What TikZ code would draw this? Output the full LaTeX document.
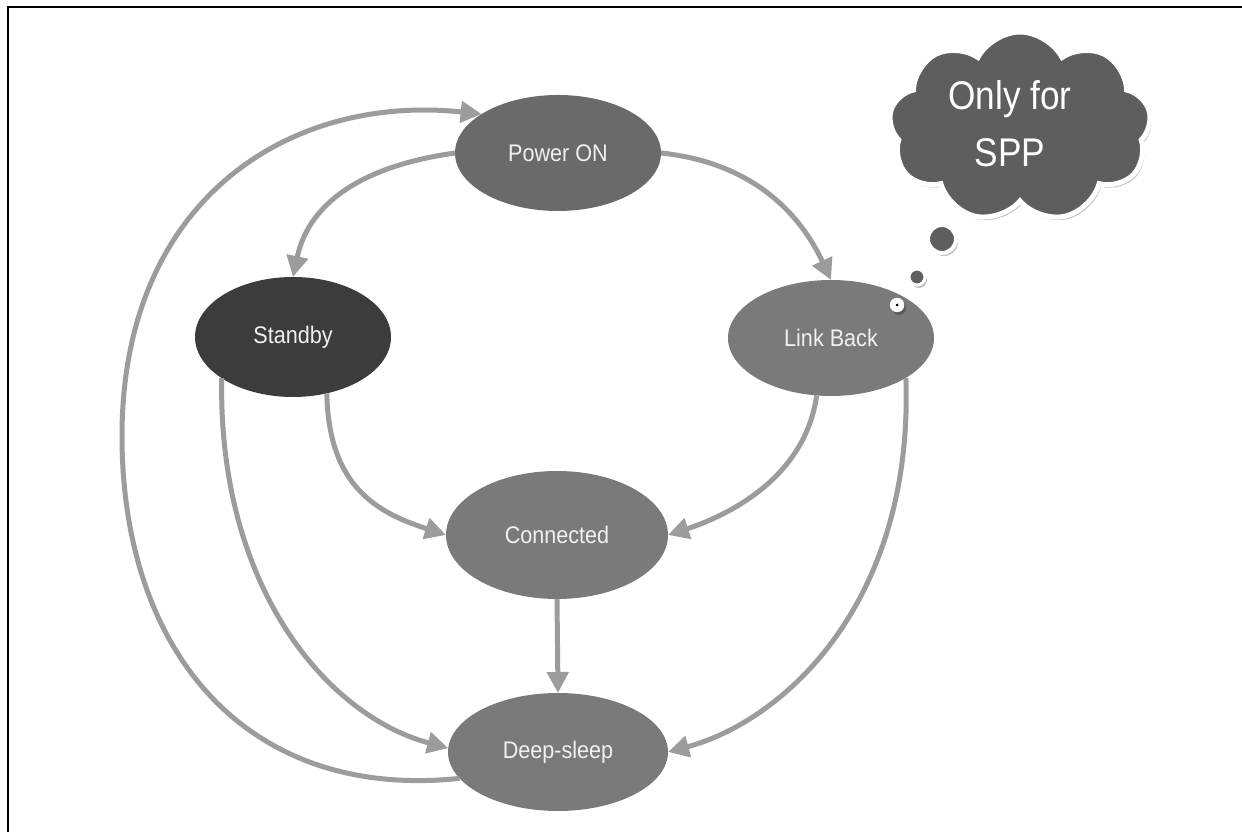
\documentclass[tikz,border=0pt]{standalone}
\usepackage{fontspec}
\setmainfont{Liberation Sans}
\usetikzlibrary{shapes.geometric,shapes.symbols,arrows.meta,shadows}
\definecolor{pwgray}{HTML}{6A6A6A}
\definecolor{sbgray}{HTML}{3C3C3C}
\definecolor{stgray}{HTML}{7A7A7A}
\definecolor{cloudgray}{HTML}{5E5E5E}
\definecolor{arrowgray}{HTML}{9C9C9C}
\definecolor{lbltext}{HTML}{F0F0F0}
\newcommand{\lbl}[1]{\scalebox{0.9}[1]{#1}}
\tikzset{
  stnode/.style={ellipse, inner sep=0pt, outer sep=0pt, text=lbltext,
    font=\fontsize{24}{28}\selectfont},
  conn/.style={draw=arrowgray, line width=5pt,
    -{Triangle[length=21pt,width=21pt]}},
  bubshadow/.style={drop shadow={fill=black, opacity=0.25, shadow xshift=2pt, shadow yshift=-3pt}}
}
\begin{document}
\begin{tikzpicture}[x=1pt,y=1pt]
\useasboundingbox (0,0) rectangle (1242,832);
\fill[white] (0,0) rectangle (1242,832);
\draw[line width=2pt] (7.7,0) -- (7.7,825.3) -- (1242,825.3);

% states
\node[stnode, fill=pwgray, minimum width=206pt, minimum height=116pt] (pw) at (558,679) {\lbl{Power ON}};
\node[stnode, fill=sbgray, minimum width=196pt, minimum height=120pt] (sb) at (293,495) {\lbl{Standby}};
\node[stnode, fill=stgray, minimum width=206pt, minimum height=116pt] (lb) at (831,494) {\lbl{Link Back}};
\node[stnode, fill=stgray, minimum width=222pt, minimum height=128pt] (cn) at (557,297) {\lbl{Connected}};
\node[stnode, fill=stgray, minimum width=220pt, minimum height=118pt] (ds) at (558,80) {\lbl{Deep-sleep}};

% connectors
\coordinate (lft) at (122,396);
\draw[conn] (ds.195) to[out=186,in=-90,out distance=215pt,in distance=215pt] (lft)
  to[out=90,in=174,out distance=235pt,in distance=195pt] (pw.153);
\draw[conn] (pw.180) to[out=188,in=78,out distance=95pt,in distance=75pt] (sb.90);
\draw[conn] (pw.0) to[out=-6,in=115,out distance=95pt,in distance=70pt] (lb.90);
\draw[conn] (sb.-59) to[out=-89,in=162,out distance=95pt,in distance=70pt] (cn.180);
\draw[conn] (lb.256) to[out=-98,in=18,out distance=85pt,in distance=60pt] (cn.0);
\draw[conn] (cn.270) -- (ds.90);
\draw[conn] (sb.210) to[out=-91,in=165,out distance=210pt,in distance=125pt] (ds.178);
\draw[conn] (lb.-28) to[out=-88,in=15,out distance=225pt,in distance=120pt] (ds.0);

% thought cloud
\node[cloud, cloud puffs=9, cloud puff arc=125, aspect=1.45, fill=cloudgray, draw=white,
  line width=5pt, minimum width=262pt, minimum height=190pt, inner sep=0pt, bubshadow]
  (cloud) at (1020,705) {};
\node[text=white, align=center, font=\fontsize{40}{57}\selectfont, inner sep=0pt]
  (cloudtxt) at (1010,708) {\scalebox{0.88}[1]{Only for}\\\scalebox{0.88}[1]{SPP}};
\node[circle, fill=cloudgray, draw=white, line width=4pt, minimum size=28pt, inner sep=0pt, bubshadow] (b1) at (942,593) {};
\node[circle, fill=cloudgray, draw=white, line width=3pt, minimum size=16pt, inner sep=0pt, bubshadow] (b2) at (917,555) {};
\node[circle, fill=white, draw=white, minimum size=14pt, inner sep=0pt, bubshadow] (b3) at (897,527) {};
\node[circle, fill=black, minimum size=3pt, inner sep=0pt] (b3dot) at (b3.center) {};
\end{tikzpicture}
\end{document}
